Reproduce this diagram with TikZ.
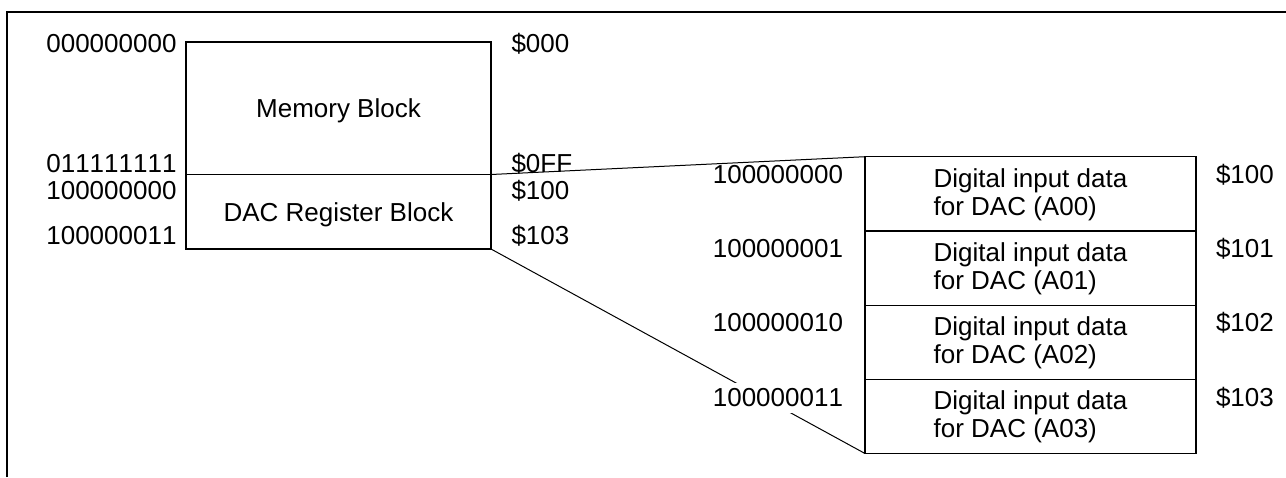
\documentclass[tikz,border=0pt]{standalone}
\usepackage{fontspec}
\setmainfont[Kerning=Off]{Liberation Sans}
\usetikzlibrary{calc}
\tikzset{
  frameline/.style={line width=2pt},
  blk/.style={draw, line width=1.2pt, rectangle, anchor=north west, inner sep=0pt, outer sep=0pt},
  memblk/.style={blk, minimum width=305pt},
  datblk/.style={blk, minimum width=331pt, minimum height=74.2pt},
  conn/.style={line width=1pt},
  txt/.style={inner sep=0pt, outer sep=0pt, font=\fontsize{26}{27.7}\selectfont},
  lefttxt/.style={txt, anchor=base east},
  righttxt/.style={txt, anchor=base west},
  coveredtxt/.style={lefttxt, fill=white, inner xsep=2pt, inner ysep=6pt},
}
\newcommand{\dactext}[1]{\begin{tabular}[t]{@{}l@{}}Digital input data\\for DAC (#1)\end{tabular}}
\begin{document}
\begin{tikzpicture}[x=1pt,y=-1pt]
\useasboundingbox (0,0) rectangle (1286,477);
% outer frame (partial)
\coordinate (fb) at (6.5,477);
\coordinate (fr) at (1286,11.5);
\draw[frameline] (fb) |- (fr);
% address map blocks
\node[memblk, minimum height=132.5pt] (mem) at (186,42) {};
\node[memblk, minimum height=74.5pt] (dac) at (mem.south west) {};
\node[txt, anchor=base] (memt) at ($(mem.north)+(0,75.3)$) {Memory Block};
\node[txt, anchor=base] (dact) at ($(dac.north)+(0,47.2)$) {DAC Register Block};
% expanded DAC register block
\node[datblk] (d0) at (865,156.7) {};
\node[datblk] (d1) at (d0.south west) {};
\node[datblk] (d2) at (d1.south west) {};
\node[datblk] (d3) at (d2.south west) {};
\node[txt, anchor=base] (d0t) at ($(d0.north)+(0,30.6)$) {\dactext{A00}};
\node[txt, anchor=base] (d1t) at ($(d1.north)+(0,30.6)$) {\dactext{A01}};
\node[txt, anchor=base] (d2t) at ($(d2.north)+(0,30.6)$) {\dactext{A02}};
\node[txt, anchor=base] (d3t) at ($(d3.north)+(0,30.6)$) {\dactext{A03}};
% connectors
\draw[conn] (dac.north east) -- (d0.north west);
\draw[conn] (dac.south east) -- (d3.south west);
% left address labels
\node[lefttxt] (a0) at (176.5,52) {000000000};
\node[lefttxt] (a1) at (176.5,172) {011111111};
\node[lefttxt] (a2) at (176.5,199) {100000000};
\node[lefttxt] (a3) at (176.5,244) {100000011};
\node[righttxt] (h0) at (511.5,52) {\$000};
\node[righttxt] (h1) at (511.5,172) {\$0FF};
\node[righttxt] (h2) at (511.5,199) {\$100};
\node[righttxt] (h3) at (511.5,244) {\$103};
% right address labels
\node[lefttxt] (b0) at (843,183.3) {100000000};
\node[lefttxt] (b1) at (843,257.3) {100000001};
\node[lefttxt] (b2) at (843,331.7) {100000010};
\node[coveredtxt] (b3) at (845,406.7) {100000011};
\node[righttxt] (g0) at (1216,183.3) {\$100};
\node[righttxt] (g1) at (1216,257.3) {\$101};
\node[righttxt] (g2) at (1216,331.7) {\$102};
\node[righttxt] (g3) at (1216,406.7) {\$103};
\end{tikzpicture}
\end{document}
